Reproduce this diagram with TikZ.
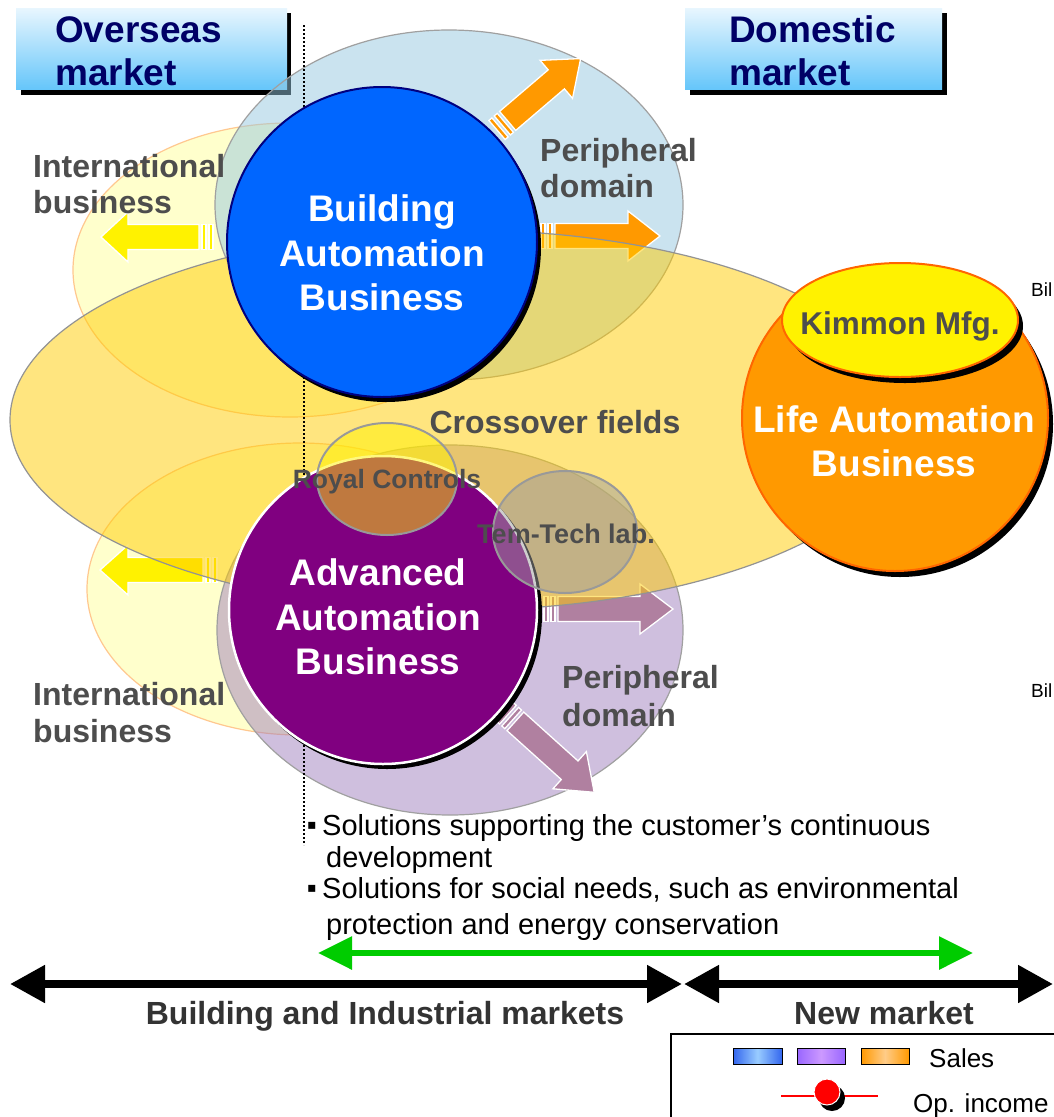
\documentclass[tikz,border=0pt]{standalone}
\usepackage{fontspec}
\setmainfont{Liberation Sans}
\newfontfamily\djv{DejaVu Sans}
\usetikzlibrary{arrows.meta}
\definecolor{navy}{HTML}{000066}
\definecolor{labgray}{HTML}{4D4D4D}
\definecolor{darkgray}{HTML}{333333}
\definecolor{intlfill}{HTML}{FFFFCC}
\definecolor{intldraw}{HTML}{FFC890}
\definecolor{periblue}{RGB}{150,200,225}
\definecolor{peripurple}{RGB}{160,128,190}
\definecolor{crossfill}{RGB}{255,204,0}
\definecolor{edgegray}{HTML}{A0A0A0}
\definecolor{bablue}{HTML}{0066FF}
\definecolor{baborder}{HTML}{000080}
\definecolor{aapurple}{HTML}{800080}
\definecolor{laorange}{HTML}{FF9900}
\definecolor{laborder}{HTML}{FF6600}
\definecolor{arrorange}{HTML}{FF9900}
\definecolor{arrmauve}{HTML}{B080A0}
\definecolor{arrgreen}{HTML}{00CC00}
\definecolor{hdrtop}{HTML}{E8F6FE}
\definecolor{hdrbot}{HTML}{66C6FA}
\definecolor{legblueE}{HTML}{3366EE}
\definecolor{legblueM}{HTML}{99CCFF}
\definecolor{legvioE}{HTML}{9966FF}
\definecolor{legvioM}{HTML}{CC99FF}
\definecolor{legoraE}{HTML}{FF9900}
\definecolor{legoraM}{HTML}{FFCC88}
\newcommand\fsz[1]{\fontsize{#1}{#1}\selectfont}
% block arrow: #1 tail point, #2 angle, #3 length, #4 colour, #5 head length
\newcommand\blockarr[5]{%
\begin{scope}[shift={#1},rotate=#2]
\filldraw[fill=#4,draw=white,line width=1.3pt] (0,-12.5) rectangle (4,12.5);
\filldraw[fill=#4,draw=white,line width=1.3pt] (7,-12.5) rectangle (11,12.5);
\filldraw[fill=#4,draw=white,line width=1.3pt] (14,-12.5) -- ({#3-#5},-12.5) -- ({#3-#5},-25) -- (#3,0) -- ({#3-#5},25) -- ({#3-#5},12.5) -- (14,12.5) -- cycle;
\end{scope}}
\begin{document}
\begin{tikzpicture}[x=1pt,y=-1pt,
  lbl/.style={text=labgray,font=\bfseries\fsz{32},inner sep=0pt},
  wlbl/.style={text=white,font=\bfseries\fsz{37},inner sep=0pt},
  hdr/.style={text=navy,font=\bfseries\fsz{37},inner sep=0pt,anchor=base west},
  small/.style={text=labgray,font=\bfseries\fsz{26.5},inner sep=0pt,anchor=base},
  body/.style={text=black,font=\fsz{29},inner sep=0pt,anchor=base west},
  bottomlbl/.style={text=darkgray,font=\bfseries\fsz{32},inner sep=0pt,anchor=base},
  leg/.style={text=black,font=\fsz{26},inner sep=0pt,anchor=base west},
  legbar/.style={draw=black,line width=1pt},
  shadowfill/.style={fill=black,draw=none}]
\useasboundingbox (0,0) rectangle (1054,1117);
\fill[white] (0,0) rectangle (1054,1117);

% header boxes
\fill[black] (21,13) rectangle (291,95);
\shade[top color=hdrtop,bottom color=hdrbot] (16,8) rectangle (287,89);
\node[hdr] (ov1) at (55,42) {Overseas};
\node[hdr] (ov2) at (55,85) {market};
\fill[black] (690,13) rectangle (947,95);
\shade[top color=hdrtop,bottom color=hdrbot] (685,8) rectangle (942,89);
\node[hdr] (do1) at (729,42) {Domestic};
\node[hdr] (do2) at (729,85) {market};

% international ellipses
\filldraw[fill=intlfill,draw=intldraw,line width=1.2pt] (290,270) ellipse [x radius=217pt,y radius=147pt];
\filldraw[fill=intlfill,draw=intldraw,line width=1.2pt] (300,589) ellipse [x radius=213pt,y radius=146pt];
% peripheral ellipses
\filldraw[fill=periblue,fill opacity=0.5,draw=edgegray,line width=1.2pt] (449,205) ellipse [x radius=234pt,y radius=175pt];
\filldraw[fill=peripurple,fill opacity=0.5,draw=edgegray,line width=1.2pt] (450,630) ellipse [x radius=233pt,y radius=185pt];

% block arrows
\blockarr{(497,130)}{40.5}{110}{arrorange}{32}
\blockarr{(541,236)}{0}{119}{arrorange}{32}
\blockarr{(213,237)}{180}{112}{yellow}{27}
\blockarr{(217,570)}{180}{117}{yellow}{28}
\blockarr{(544,609)}{0}{129}{arrmauve}{33}
\blockarr{(505,712)}{-42}{120}{arrmauve}{33}

% crossover ellipse
\filldraw[fill=crossfill,fill opacity=0.5,draw=gray!85,line width=1.2pt] (460,420) ellipse [x radius=450pt,y radius=190pt];

% dotted divider
\coordinate (dtop) at (304,25);
\coordinate (dbot) at (304,845);
\draw[black,line width=2pt,dash pattern=on 2pt off 2pt] (dtop) -- (dbot);

% Building Automation circle
\fill[shadowfill] (386,247) circle [radius=155pt];
\filldraw[fill=bablue,draw=baborder,line width=2pt] (382,242) circle [radius=155pt];
% Advanced Automation circle
\fill[shadowfill] (387,614) circle [radius=155pt];
\filldraw[fill=aapurple,draw=white,line width=2.5pt] (383,610) circle [radius=154pt];

% Royal Controls / Tem-Tech
\filldraw[fill=yellow,fill opacity=0.5,draw=gray!80,line width=2pt] (387,479) ellipse [x radius=70pt,y radius=56pt];
\filldraw[fill=gray!75,fill opacity=0.5,draw=gray!80,line width=2pt] (565,532) ellipse [x radius=72pt,y radius=61pt];

% Life Automation
\fill[shadowfill] (900,424) circle [radius=153pt];
\filldraw[fill=laorange,draw=laborder,line width=2pt] (895,418) circle [radius=153pt];
\fill[shadowfill] (905,326) ellipse [x radius=118pt,y radius=57pt];
\filldraw[fill=yellow,draw=laborder,line width=2pt] (900,320) ellipse [x radius=118pt,y radius=57pt];

% texts
\node[wlbl,anchor=base] (ba1) at (382,221) {Building};
\node[wlbl,anchor=base] (ba2) at (382,266) {Automation};
\node[wlbl,anchor=base] (ba3) at (382,310) {Business};
\node[wlbl,anchor=base] (aa1) at (378,585) {Advanced};
\node[wlbl,anchor=base] (aa2) at (378,630) {Automation};
\node[wlbl,anchor=base] (aa3) at (378,674) {Business};
\node[wlbl,anchor=base] (la1) at (894,432) {Life Automation};
\node[wlbl,anchor=base] (la2) at (894,476) {Business};
\node[lbl,anchor=base,font=\bfseries\fsz{31.5}] (kim) at (900,334) {Kimmon Mfg.};
\node[lbl,anchor=base] (cross) at (555,433) {Crossover fields};
\node[small] (royal) at (387,488) {Royal Controls};
\node[small,font=\bfseries\fsz{27}] (tem) at (566,543) {Tem-Tech lab.};
\node[lbl,anchor=base west] (p1) at (540,161) {Peripheral};
\node[lbl,anchor=base west] (p2) at (540,197) {domain};
\node[lbl,anchor=base west] (q1) at (562,688) {Peripheral};
\node[lbl,anchor=base west] (q2) at (562,726) {domain};
\node[lbl,anchor=base west] (i1) at (33,177) {International};
\node[lbl,anchor=base west] (i2) at (33,213) {business};
\node[lbl,anchor=base west] (j1) at (33,705) {International};
\node[lbl,anchor=base west] (j2) at (33,742) {business};
\node[leg,font=\fsz{19}] (bil1) at (1031,296) {Bil};
\node[leg,font=\fsz{19}] (bil2) at (1031,697) {Bil};

% bullet texts
\node[body,font=\djv\fsz{14}] (b1) at (307,829) {▪};
\node[body] (s1) at (322,835) {Solutions supporting the customer’s continuous};
\node[body] (s2) at (326,867) {development};
\node[body,font=\djv\fsz{14}] (b2) at (307,892) {▪};
\node[body] (s3) at (322,898) {Solutions for social needs, such as environmental};
\node[body] (s4) at (326,934) {protection and energy conservation};

% market arrows
\coordinate (g1) at (318,953);
\coordinate (g2) at (973,953);
\draw[arrgreen,line width=6pt,{Triangle[length=34pt,width=32pt]}-{Triangle[length=34pt,width=32pt]}] (g1) -- (g2);
\coordinate (k1) at (10,984);
\coordinate (k2) at (682,984);
\coordinate (k3) at (684,984);
\coordinate (k4) at (1053,984);
\draw[black,line width=8pt,{Triangle[length=35pt,width=36pt]}-{Triangle[length=35pt,width=36pt]}] (k1) -- (k2);
\draw[black,line width=8pt,{Triangle[length=35pt,width=36pt]}-{Triangle[length=35pt,width=36pt]}] (k3) -- (k4);
\node[bottomlbl] (bim) at (385,1024) {Building and Industrial markets};
\node[bottomlbl] (nm) at (884,1024) {New market};

% legend
\draw[black,line width=1.2pt] (671,1034) rectangle (1075,1140);
\shade[left color=legblueE,right color=legblueE,middle color=legblueM] (733,1048) rectangle (782,1064);
\draw[legbar] (733,1048) rectangle (782,1064);
\shade[left color=legvioE,right color=legvioE,middle color=legvioM] (797,1048) rectangle (845,1064);
\draw[legbar] (797,1048) rectangle (845,1064);
\shade[left color=legoraE,right color=legoraE,middle color=legoraM] (861,1048) rectangle (909,1064);
\draw[legbar] (861,1048) rectangle (909,1064);
\node[leg] (sales) at (929,1067) {Sales};
\coordinate (r1) at (781,1096);
\coordinate (r2) at (878,1096);
\draw[red,line width=1.5pt] (r1) -- (r2);
\fill[black] (832,1098) circle [radius=13pt];
\filldraw[fill=red,draw=white,line width=1pt] (827,1092) circle [radius=13pt];
\node[leg] (opi) at (913,1112) {Op. income};
\end{tikzpicture}
\end{document}
